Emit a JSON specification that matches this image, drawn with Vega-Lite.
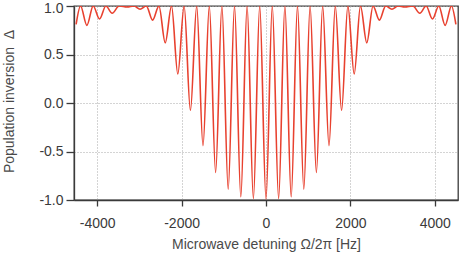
{
  "$schema": "https://vega.github.io/schema/vega-lite/v6.json",
  "autosize": {"type": "none"},
  "width": 384,
  "height": 194,
  "padding": {"left": 74, "top": 6, "right": 2, "bottom": 53},
  "background": "white",
  "config": {
    "view": {"stroke": "#3a3a3a", "strokeWidth": 1.3},
    "axis": {
      "labelFont": "Liberation Sans",
      "titleFont": "Liberation Sans",
      "labelFontSize": 14,
      "titleFontSize": 14,
      "labelColor": "#3a3a3a",
      "titleColor": "#4a4a4a",
      "titleFontWeight": "normal",
      "domainColor": "#3a3a3a",
      "domainWidth": 1.3,
      "tickColor": "#3a3a3a",
      "tickWidth": 1.3,
      "gridColor": "#a8a8a8",
      "gridDash": [1, 2],
      "gridWidth": 1
    }
  },
  "data": {
    "values": [
      {"detuning": -4500, "inversion": 0.81},
      {"detuning": -4395, "inversion": 1.0},
      {"detuning": -4245, "inversion": 0.8},
      {"detuning": -4095, "inversion": 1.0},
      {"detuning": -3945, "inversion": 0.866},
      {"detuning": -3795, "inversion": 1.0},
      {"detuning": -3645, "inversion": 0.925},
      {"detuning": -3480, "inversion": 1.0},
      {"detuning": -3290, "inversion": 0.99},
      {"detuning": -3130, "inversion": 1.0},
      {"detuning": -2985, "inversion": 0.966},
      {"detuning": -2836, "inversion": 1.0},
      {"detuning": -2687, "inversion": 0.854},
      {"detuning": -2537, "inversion": 1.0},
      {"detuning": -2388, "inversion": 0.62},
      {"detuning": -2239, "inversion": 1.0},
      {"detuning": -2090, "inversion": 0.3},
      {"detuning": -1940, "inversion": 1.0},
      {"detuning": -1791, "inversion": -0.078},
      {"detuning": -1642, "inversion": 1.0},
      {"detuning": -1493, "inversion": -0.44},
      {"detuning": -1343, "inversion": 1.0},
      {"detuning": -1194, "inversion": -0.716},
      {"detuning": -1045, "inversion": 1.0},
      {"detuning": -896, "inversion": -0.888},
      {"detuning": -746, "inversion": 1.0},
      {"detuning": -597, "inversion": -0.967},
      {"detuning": -448, "inversion": 1.0},
      {"detuning": -299, "inversion": -0.985},
      {"detuning": -149, "inversion": 1.0},
      {"detuning": 0, "inversion": -0.99},
      {"detuning": 149, "inversion": 1.0},
      {"detuning": 299, "inversion": -0.985},
      {"detuning": 448, "inversion": 1.0},
      {"detuning": 597, "inversion": -0.967},
      {"detuning": 746, "inversion": 1.0},
      {"detuning": 896, "inversion": -0.888},
      {"detuning": 1045, "inversion": 1.0},
      {"detuning": 1194, "inversion": -0.716},
      {"detuning": 1343, "inversion": 1.0},
      {"detuning": 1493, "inversion": -0.44},
      {"detuning": 1642, "inversion": 1.0},
      {"detuning": 1791, "inversion": -0.078},
      {"detuning": 1940, "inversion": 1.0},
      {"detuning": 2090, "inversion": 0.3},
      {"detuning": 2239, "inversion": 1.0},
      {"detuning": 2388, "inversion": 0.62},
      {"detuning": 2537, "inversion": 1.0},
      {"detuning": 2687, "inversion": 0.854},
      {"detuning": 2836, "inversion": 1.0},
      {"detuning": 2985, "inversion": 0.966},
      {"detuning": 3130, "inversion": 1.0},
      {"detuning": 3290, "inversion": 0.99},
      {"detuning": 3480, "inversion": 1.0},
      {"detuning": 3645, "inversion": 0.925},
      {"detuning": 3795, "inversion": 1.0},
      {"detuning": 3945, "inversion": 0.866},
      {"detuning": 4095, "inversion": 1.0},
      {"detuning": 4245, "inversion": 0.8},
      {"detuning": 4395, "inversion": 1.0},
      {"detuning": 4500, "inversion": 0.81}
    ]
  },
  "mark": {
    "type": "line",
    "interpolate": "monotone",
    "color": "#e8412f",
    "strokeWidth": 1.6,
    "clip": true
  },
  "encoding": {
    "x": {
      "field": "detuning",
      "type": "quantitative",
      "scale": {"domain": [-4550, 4550], "nice": false, "zero": false},
      "axis": {
        "values": [-4000, -2000, 0, 2000, 4000],
        "labelExpr": "datum.value < 0 ? '-' + format(-datum.value, 'd') : format(datum.value, 'd')",
        "tickSize": 6,
        "labelPadding": 10,
        "title": "Microwave detuning Ω/2π [Hz]",
        "titleX": 192,
        "titleY": 48,
        "titleBaseline": "alphabetic",
        "titleAlign": "center"
      }
    },
    "y": {
      "field": "inversion",
      "type": "quantitative",
      "scale": {"domain": [-1, 1], "nice": false, "zero": false},
      "axis": {
        "values": [-1, -0.5, 0, 0.5, 1],
        "labelExpr": "datum.value < 0 ? '-' + format(-datum.value, '.1f') : format(datum.value, '.1f')",
        "labelOffset": {"condition": {"test": "datum.value == 1", "value": 2.5}, "value": 0},
        "tickSize": 8,
        "labelPadding": 3,
        "title": "Population inversion\u00a0\u00a0Δ",
        "titleAngle": -90,
        "titleX": -61,
        "titleY": 95,
        "titleBaseline": "alphabetic",
        "titleAlign": "center"
      }
    }
  }
}
